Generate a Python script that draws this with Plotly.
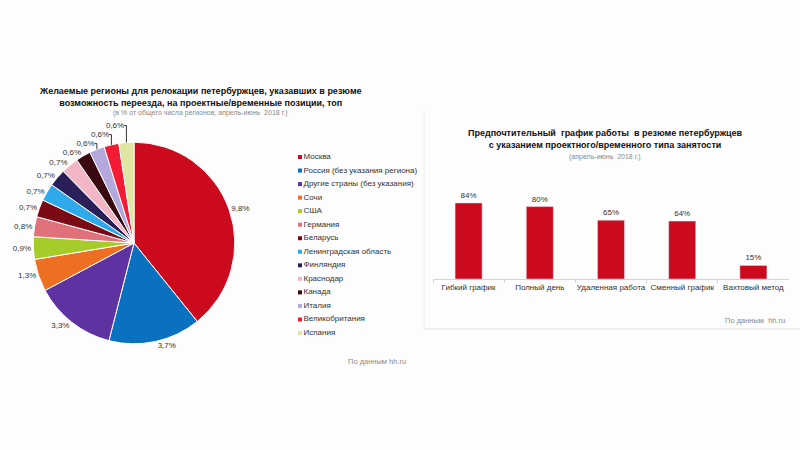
import plotly.graph_objects as go

# ---- data ----
regions = ["Москва", "Россия (без указания региона)", "Другие страны (без указания)", "Сочи", "США",
           "Германия", "Беларусь", "Ленинградская область", "Финляндия", "Краснодар", "Канада",
           "Италия", "Великобритания", "Испания"]
region_values = [9.8, 3.7, 3.3, 1.3, 0.9, 0.8, 0.7, 0.7, 0.7, 0.7, 0.6, 0.6, 0.6, 0.6]
region_colors = ["#cc0a1e", "#0a70c0", "#5e32a0", "#ee6f22", "#a6cc2a", "#e0707a", "#7c0a14",
                 "#2eaaea", "#2a1f58", "#f3b6c4", "#3a0a10", "#b2a8dc", "#f41c34", "#dfe6a2"]

schedules = ["Гибкий график", "Полный день", "Удаленная работа", "Сменный график", "Вахтовый метод"]
schedule_values = [84, 80, 65, 64, 15]

FONT = "Liberation Sans, Arial, sans-serif"
DARK = "#333333"
GRAY = "#8a8a8a"

def pct(v, dec=True):
    s = f"{v:.1f}" if dec else f"{v:.0f}"
    return s.replace(".", ",") + "%"

fig = go.Figure()

# pie
fig.add_trace(go.Pie(
    labels=regions, values=region_values, sort=False, direction="clockwise", rotation=0,
    marker=dict(colors=region_colors, line=dict(color="white", width=1)),
    text=[pct(v) for v in region_values], texttemplate="%{text}",
    textposition="outside", textfont=dict(size=8, color=DARK, family=FONT),
    domain=dict(x=[33/800, 235/800], y=[0.236, 0.684]),
    showlegend=False, hoverinfo="label+value",
))

# custom legend
fig.add_trace(go.Scatter(
    x=[0]*len(regions), y=list(range(len(regions))), mode="markers+text",
    marker=dict(symbol="square", size=4, color=region_colors),
    text=regions, textposition="middle right",
    textfont=dict(size=8, color=DARK, family=FONT), cliponaxis=False,
    xaxis="x3", yaxis="y3", showlegend=False, hoverinfo="skip",
))

# bars
fig.add_trace(go.Bar(
    x=schedules, y=schedule_values, marker=dict(color="#cc0a1e"),
    text=[pct(v, False) for v in schedule_values], textposition="outside",
    textfont=dict(size=8, color=DARK, family=FONT), cliponaxis=False,
    xaxis="x", yaxis="y", showlegend=False,
))

def ann(text, x, y, size, color, xanchor="center"):
    return dict(text=text, x=x/800, y=(450-y)/450, xref="paper", yref="paper", showarrow=False,
                xanchor=xanchor, yanchor="middle", align="center", font=dict(size=size, color=color))

fig.update_layout(
    width=800, height=450, margin=dict(l=0, r=0, t=0, b=0),
    paper_bgcolor="#fdfdfd", plot_bgcolor="rgba(0,0,0,0)",
    font=dict(family=FONT, color=DARK),
    bargap=0.62,
    xaxis=dict(domain=[433/800, 789/800], type="category", showgrid=False, showline=True,
               linecolor="#d4d4d4", linewidth=1, ticks="outside", tickson="boundaries",
               ticklen=3, tickcolor="#d4d4d4", tickangle=0,
               tickfont=dict(size=8, color=DARK), zeroline=False),
    yaxis=dict(domain=[171/450, 261.5/450], range=[0, 100], visible=False, showgrid=False),
    xaxis3=dict(domain=[300/800, 0.56], range=[0, 10], visible=False),
    yaxis3=dict(domain=[(450-333)/450, (450-157)/450], range=[13, 0], visible=False),
    shapes=[
        dict(type="line", xref="paper", yref="paper", x0=424/800, x1=1, y0=(450-329)/450, y1=(450-329)/450,
             line=dict(color="#e4e4e4", width=1)),
        dict(type="line", xref="paper", yref="paper", x0=424/800, x1=424/800, y0=(450-329)/450, y1=(450-110)/450,
             line=dict(color="#f0f0f0", width=1)),
    ],
    annotations=[
        ann("<b>Желаемые регионы для релокации петербуржцев, указавших в резюме<br>возможность переезда, на проектные/временные позиции, топ</b>",
            200, 97, 9, "#111111"),
        ann("(в % от общего числа регионов, апрель-июнь  2018 г.)", 200, 113, 7, GRAY),
        ann("По данным hh.ru", 408, 361, 7.5, GRAY, "right"),
        ann("<b>Предпочтительный  график работы  в резюме петербуржцев<br>с указанием проектного/временного типа занятости</b>",
            605, 139, 9, "#111111"),
        ann("(апрель-июнь  2018 г.)", 605, 157, 7, GRAY),
        ann("По данным  hh.ru", 787, 320, 7.5, GRAY, "right"),
    ],
)

fig.write_html("out.html")
